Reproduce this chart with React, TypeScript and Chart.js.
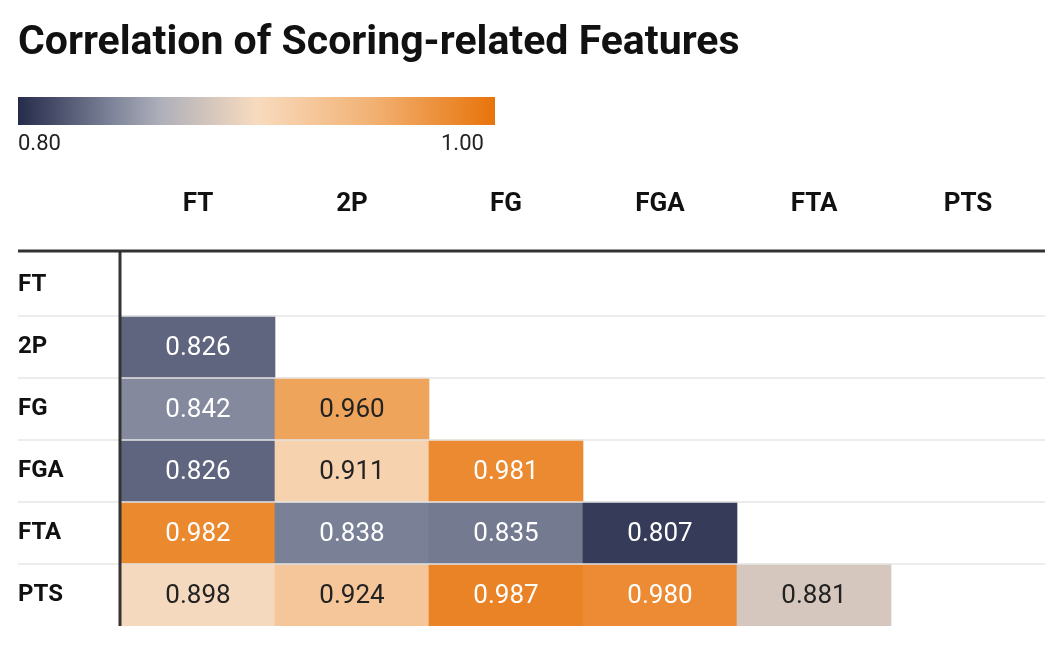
import { useEffect, useRef } from 'react';
import { Chart, registerables } from 'chart.js';

Chart.register(...registerables);

const features = ['FT', '2P', 'FG', 'FGA', 'FTA', 'PTS'];
// lower triangle, row by row (row i has i values)
const corrRows: number[][] = [
  [],
  [0.826],
  [0.842, 0.96],
  [0.826, 0.911, 0.981],
  [0.982, 0.838, 0.835, 0.807],
  [0.898, 0.924, 0.987, 0.98, 0.881],
];
const scaleStops: [number, string][] = [
  [0.8, '#252b4a'],
  [0.84, '#7f859a'],
  [0.86, '#aeb0ba'],
  [0.9, '#f8dbbf'],
  [0.95, '#f1b071'],
  [1.0, '#e8730a'],
];

const hex = (h: string) => [1, 3, 5].map((i) => parseInt(h.slice(i, i + 2), 16));
function colorFor(v: number) {
  for (let i = 1; i < scaleStops.length; i++) {
    const [v1, c1] = scaleStops[i];
    const [v0, c0] = scaleStops[i - 1];
    if (v <= v1) {
      const t = Math.max(0, (v - v0) / (v1 - v0));
      const a = hex(c0), b = hex(c1);
      return `rgb(${a.map((x, k) => Math.round(x + (b[k] - x) * t)).join(',')})`;
    }
  }
  return scaleStops[scaleStops.length - 1][1];
}

const font = 'Roboto, "Noto Sans", sans-serif';

const tablePlugin = {
  id: 'tableDecor',
  afterDatasetsDraw(chart: any) {
    const { ctx, chartArea } = chart;
    const y = chart.scales.y;
    ctx.save();
    ctx.strokeStyle = '#e6e6e6';
    ctx.lineWidth = 1.5;
    for (let r = 1; r < features.length; r++) {
      const py = y.getPixelForValue(r);
      ctx.beginPath();
      ctx.moveTo(18, py);
      ctx.lineTo(chartArea.right, py);
      ctx.stroke();
    }
    ctx.strokeStyle = '#333';
    ctx.lineWidth = 3;
    ctx.beginPath();
    ctx.moveTo(18, chartArea.top - 3);
    ctx.lineTo(chartArea.right, chartArea.top - 3);
    ctx.stroke();
    ctx.beginPath();
    ctx.moveTo(chartArea.left - 1, chartArea.top - 3);
    ctx.lineTo(chartArea.left - 1, chartArea.bottom);
    ctx.stroke();
    ctx.font = `26px ${font}`;
    ctx.textAlign = 'center';
    ctx.textBaseline = 'middle';
    chart.data.datasets.forEach((ds: any, di: number) => {
      const meta = chart.getDatasetMeta(di);
      meta.data.forEach((bar: any, i: number) => {
        const v = corrRows[di][i];
        if (v == null) return;
        const cy = (bar.y + bar.base) / 2;
        ctx.fillStyle = v < 0.86 || v > 0.97 ? '#ffffff' : '#222222';
        ctx.fillText(v.toFixed(3), bar.x, cy + 1);
      });
    });
    ctx.restore();
  },
};

export default function App() {
  const canvasRef = useRef<HTMLCanvasElement>(null);

  useEffect(() => {
    if (!canvasRef.current) return;
    const chart = new Chart(canvasRef.current, {
      type: 'bar',
      data: {
        labels: features,
        datasets: corrRows.map((row, r) => ({
          label: features[r],
          data: features.map((_, c) => (c < row.length ? [r, r + 1] : null)) as any,
          backgroundColor: features.map((_, c) => (c < row.length ? colorFor(row[c]) : 'transparent')),
          borderWidth: 0,
          barPercentage: 1,
          categoryPercentage: 1,
          grouped: false,
        })),
      },
      options: {
        animation: false,
        responsive: true,
        maintainAspectRatio: false,
        layout: { padding: { top: 176, left: 18, right: 17, bottom: 24 } },
        plugins: { legend: { display: false }, tooltip: { enabled: false } },
        scales: {
          x: {
            position: 'top',
            grid: { display: false },
            border: { display: false },
            ticks: { color: '#111', font: { family: font, size: 26, weight: 'bold' }, padding: 26 },
            afterFit: (s: any) => { s.height = 78; },
          },
          y: {
            min: 0,
            max: 6,
            reverse: true,
            grid: { display: false },
            border: { display: false },
            afterBuildTicks: (s: any) => {
              s.ticks = features.map((_, i) => ({ value: i + 0.5 }));
            },
            afterFit: (s: any) => { s.width = 103; },
            ticks: {
              color: '#111',
              crossAlign: 'far',
              font: { family: font, size: 24, weight: 'bold' },
              callback: (v: any) => features[Math.floor(Number(v))],
            },
          },
        },
      },
      plugins: [tablePlugin],
    });
    return () => chart.destroy();
  }, []);

  const gradient = `linear-gradient(to right, ${scaleStops
    .map(([v, c]) => `${c} ${((v - 0.8) / 0.2) * 100}%`)
    .join(', ')})`;

  return (
    <div style={{ position: 'fixed', left: 0, top: 0, width: 1062, height: 650, background: '#fff', fontFamily: font }}>
      <div style={{ position: 'absolute', left: 18, top: 16, fontSize: 41, fontWeight: 'bold', color: '#111' }}>
        Correlation of Scoring-related Features
      </div>
      <div style={{ position: 'absolute', left: 18, top: 97, width: 477, height: 28, background: gradient }} />
      <div style={{ position: 'absolute', left: 18, top: 130, fontSize: 22, color: '#222' }}>0.80</div>
      <div style={{ position: 'absolute', left: 441, top: 130, fontSize: 22, color: '#222' }}>1.00</div>
      <canvas ref={canvasRef} style={{ display: 'block', width: 1062, height: 650 }} />
    </div>
  );
}
